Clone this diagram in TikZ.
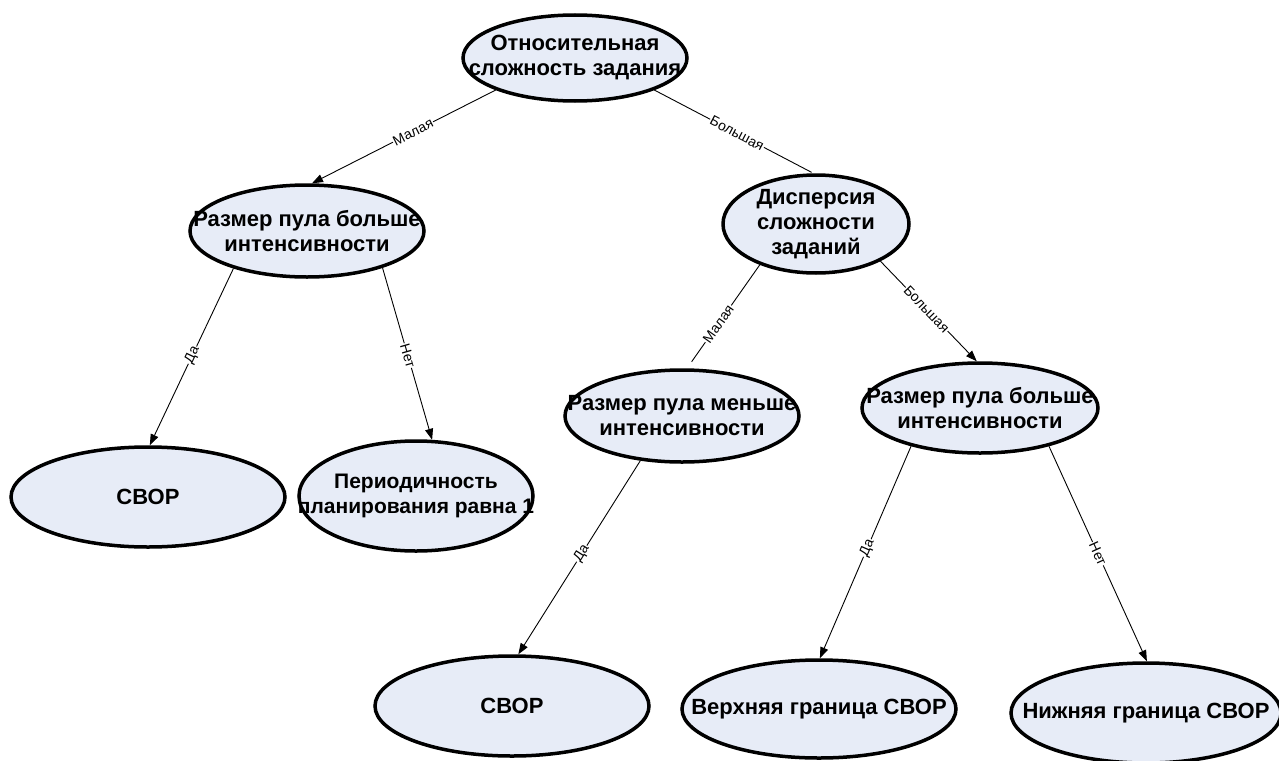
\documentclass[tikz,border=0pt]{standalone}
\usepackage{fontspec}
\setmainfont{Liberation Sans}
\usetikzlibrary{shapes.geometric,arrows.meta}
\definecolor{nodefill}{RGB}{231,236,247}
\begin{document}
\begin{tikzpicture}[x=1pt,y=-1pt,
  ell/.style={ellipse, draw=black, line width=3.5pt, fill=nodefill, inner sep=0pt},
  txt/.style={font=\fontsize{22}{25}\selectfont\bfseries, align=center, inner sep=0pt, text=black},
  conn/.style={draw=black, line width=0.9pt},
  arr/.style={conn, -{Triangle[length=11pt,width=8pt]}},
  elab/.style={sloped, fill=white, inner sep=0.8pt, font=\fontsize{14}{14}\selectfont}]
\clip (0,0) rectangle (1279,760);
\fill[white] (0,0) rectangle (1279,760);

\node[ell, minimum width=224pt, minimum height=86pt,
  label={[txt]center:{Относительная\\сложность задания}}] (top) at (575,58) {};
\node[ell, minimum width=234pt, minimum height=92pt,
  label={[txt]center:{Размер пула больше\\интенсивности}}] (l2) at (307,231) {};
\node[ell, minimum width=186pt, minimum height=98pt,
  label={[txt]center:{Дисперсия\\сложности\\заданий}}] (d) at (816,224) {};
\node[ell, minimum width=234pt, minimum height=92pt,
  label={[txt]center:{Размер пула меньше\\интенсивности}}] (m) at (682,416) {};
\node[ell, minimum width=236pt, minimum height=90pt,
  label={[txt]center:{Размер пула больше\\интенсивности}}] (r) at (980,408) {};
\node[ell, minimum width=274pt, minimum height=100pt,
  label={[txt]center:{СВОР}}] (s1) at (148,497) {};
\node[ell, minimum width=234pt, minimum height=110pt,
  label={[txt,font=\fontsize{21}{25}\selectfont\bfseries]center:{Периодичность\\планирования равна 1}}] (p) at (416,496) {};
\node[ell, minimum width=274pt, minimum height=100pt,
  label={[txt]center:{СВОР}}] (s2) at (512,706) {};
\node[ell, minimum width=274pt, minimum height=98pt,
  label={[txt]center:{Верхняя граница СВОР}}] (v) at (819,709) {};
\node[ell, minimum width=270pt, minimum height=100pt,
  label={[txt]center:{Нижняя граница СВОР}}] (n) at (1146,713) {};

\draw[arr] (top.-158) -- node[elab,pos=0.45]{Малая} (l2.84);
\draw[conn, shorten >=2pt] (top.-22) -- node[elab,pos=0.52]{Большая} (d.93);
\draw[arr] (l2.-153) -- node[elab,pos=0.49]{Да} (s1.88);
\draw[arr] (l2.-26) -- node[elab,pos=0.51]{Нет} (p.74);
\draw[conn, shorten >=8pt] (d.-144) -- node[elab,pos=0.57]{Малая} (m.84);
\draw[arr] (d.-30) -- node[elab,pos=0.48]{Большая} (r.94);
\draw[arr] (m.-133) -- node[elab,pos=0.48]{Да} (s2.83);
\draw[arr] (r.-151) -- node[elab,pos=0.48]{Да} (v.89);
\draw[arr] (r.-29) -- node[elab,pos=0.5]{Нет} (n.89);
\end{tikzpicture}
\end{document}
